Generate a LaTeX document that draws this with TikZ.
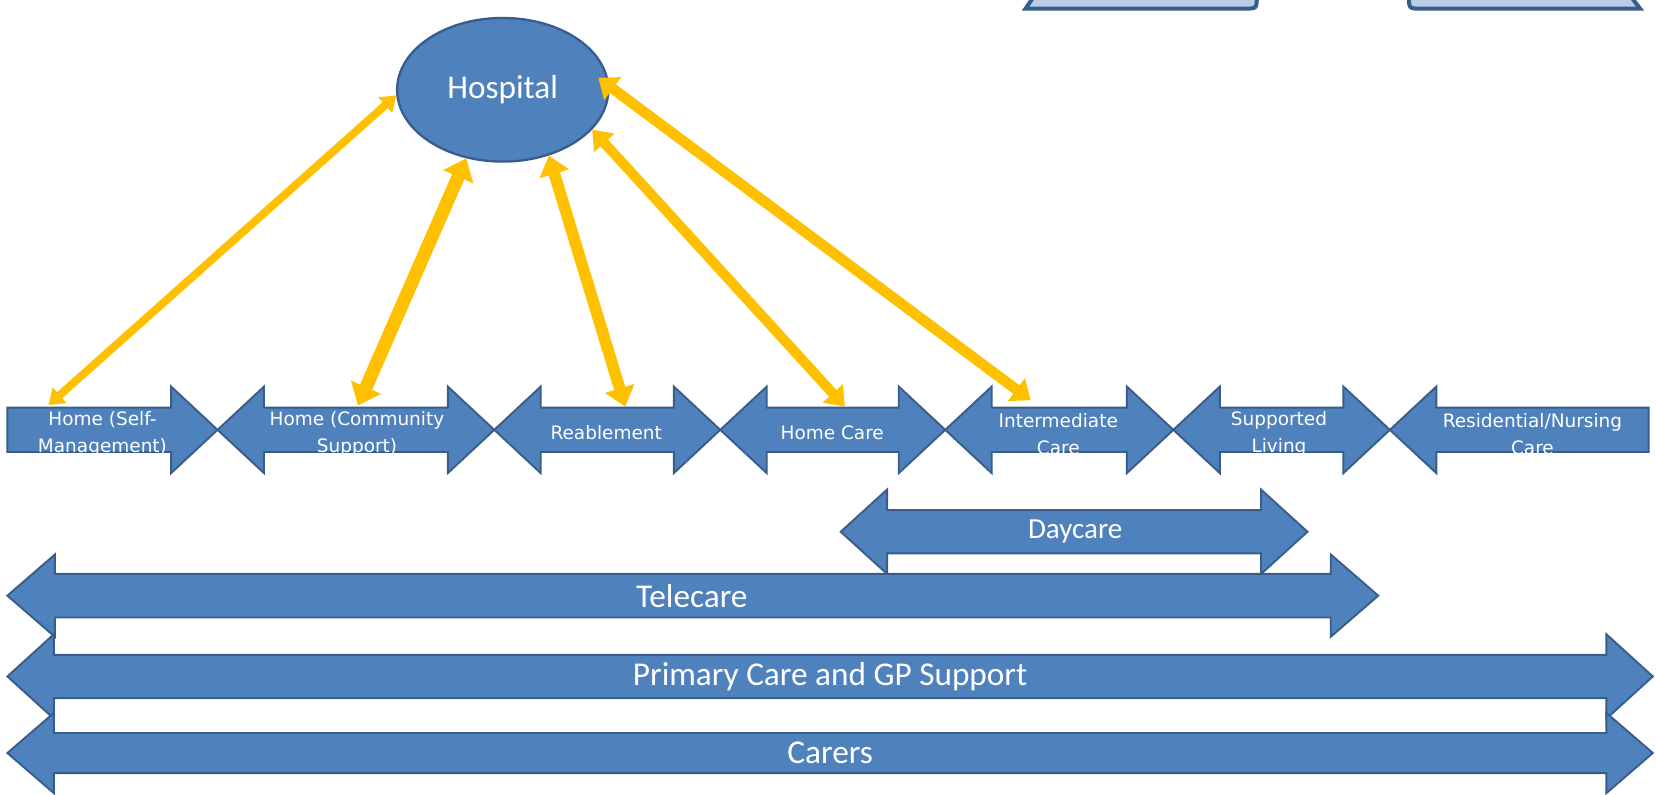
\documentclass[tikz,border=0pt]{standalone}
\usepackage{fontspec}
\setmainfont{DejaVu Sans}
\newfontfamily\calfont{Carlito}
\usetikzlibrary{arrows.meta,shapes.geometric}
\definecolor{boxblue}{HTML}{4F81BD}
\definecolor{edgeblue}{HTML}{385D8A}
\definecolor{ambre}{HTML}{FFC000}
\definecolor{paleblue}{HTML}{B9CDE5}
% x1 x2 yc bodyhalf headhalf headlength
\newcommand\dblarw[6]{%
  \draw[blockarrow] (#1,#3) -- ({#1+#6},{#3-#5}) -- ({#1+#6},{#3-#4}) -- ({#2-#6},{#3-#4})
    -- ({#2-#6},{#3-#5}) -- (#2,#3) -- ({#2-#6},{#3+#5}) -- ({#2-#6},{#3+#4})
    -- ({#1+#6},{#3+#4}) -- ({#1+#6},{#3+#5}) -- cycle;}
\begin{document}
\begin{tikzpicture}[x=1pt,y=-1pt,
  blockarrow/.style={fill=boxblue,draw=edgeblue,line width=1.8pt,line join=miter},
  topshape/.style={fill=paleblue,draw=edgeblue,line width=3.8pt},
  smalllabel/.style={text=white,font=\fontsize{17.5}{25.5}\selectfont,align=center,inner sep=0pt},
  biglabel/.style={text=white,font=\calfont\fontsize{31.5}{36}\selectfont,inner sep=0pt},
  daylabel/.style={text=white,font=\calfont\fontsize{27.5}{32}\selectfont,inner sep=0pt},
  hospital/.style={ellipse,fill=boxblue,draw=edgeblue,line width=2.2pt,minimum width=200pt,
    minimum height=136pt,inner sep=0pt,text=white,font=\calfont\fontsize{31.5}{36}\selectfont},
  linkw/.style n args={3}{draw=ambre,line width=#1,
    arrows={Triangle[width=#2,length=#3]-Triangle[width=#2,length=#3]}}]
\useasboundingbox (0,0) rectangle (1568,752.75);
\clip (0,0) rectangle (1568,752.75);

% partial shapes at the top right
\draw[topshape] (982,-8) -- (971,8.2) -- (1178,8.2) .. controls (1190,8.2) .. (1190,-3.8) -- (1190,-8);
\draw[topshape] (1334,-8) -- (1334,-3.8) .. controls (1334,8.2) .. (1346,8.2) -- (1553,8.2) -- (1540.5,-8);

% main row of arrows
\draw[blockarrow] (7,386) -- (162,386) -- (162,366) -- (206,407) -- (162,448) -- (162,428) -- (7,428) -- cycle;
\dblarw{206}{468}{407}{21}{41}{44}
\dblarw{468}{682}{407}{21}{41}{44}
\dblarw{682}{895}{407}{21}{41}{44}
\dblarw{895}{1111}{407}{21}{41}{44}
\dblarw{1111}{1316}{407}{21}{41}{44}
\draw[blockarrow] (1316,407) -- (1360,366) -- (1360,386) -- (1561,386) -- (1561,428) -- (1360,428) -- (1360,448) -- cycle;

% lower arrows
\dblarw{796}{1238}{503.5}{20.5}{40}{44}
\dblarw{7}{1305}{564}{20.7}{39}{45}
\dblarw{7}{1565}{640.5}{20.5}{40}{44}
\dblarw{7}{1565}{713}{19}{38}{44}

% labels
\node[smalllabel] (selfm) at (97,411) {Home (Self-\\Management)};
\node[smalllabel] (commu) at (338,411) {Home (Community\\Support)};
\node[smalllabel] (reabl) at (574,410) {Reablement};
\node[smalllabel] (homec) at (788,410) {Home Care};
\node[smalllabel] (inter) at (1002,411) {Intermediate\\Care};
\node[smalllabel] (suppl) at (1211,411) {Supported\\Living};
\node[smalllabel] (resid) at (1451,411) {Residential/Nursing\\Care};
\node[daylabel] (dayc) at (1018,503.5) {Daycare};
\node[biglabel] (telec) at (655,564) {Telecare};
\node[biglabel] (prim) at (786,640.5) {Primary Care and GP Support};
\node[biglabel] (carer) at (786,713) {Carers};

% hospital
\node[hospital] (hosp) at (476,85) {Hospital};

% connector ends on the row
\coordinate (t1) at (46,383.5);
\coordinate (t2) at (339,384);
\coordinate (t3) at (592,385);
\coordinate (t4) at (800,385);
\coordinate (t5) at (976,379);

\draw[linkw={7.5pt}{19pt}{14pt}] (hosp.183) -- (t1);
\draw[linkw={12.5pt}{30pt}{19pt}] (hosp.242) -- (t2);
\draw[linkw={11pt}{28pt}{18pt}] (hosp.305) -- (t3);
\draw[linkw={9.5pt}{25pt}{17pt}] (hosp.336) -- (t4);
\draw[linkw={10pt}{26pt}{17pt},shorten <=-13pt] (hosp.2) -- (t5);
\end{tikzpicture}
\end{document}
